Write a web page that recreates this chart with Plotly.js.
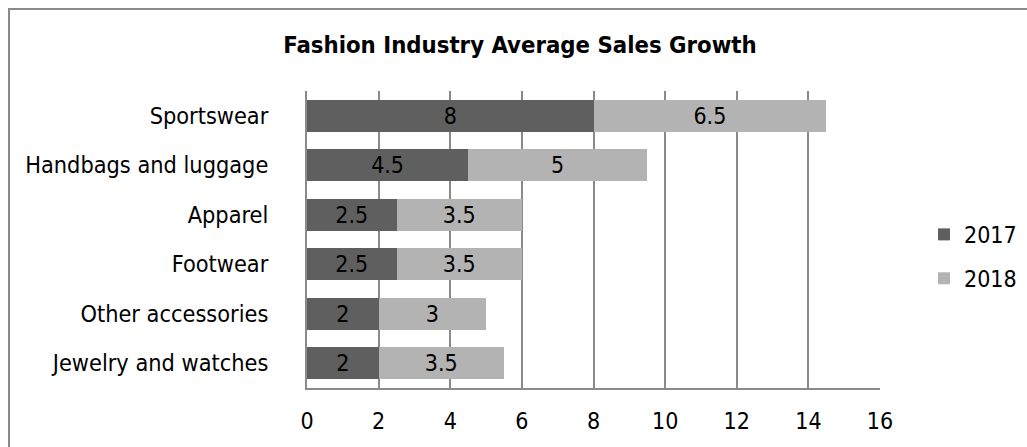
<!DOCTYPE html>
<html>
<head>
<meta charset="utf-8">
<script src="https://cdn.plot.ly/plotly-3.0.1.min.js"></script>
<style>
html,body{margin:0;padding:0;background:#fff;overflow:hidden;}
#frame{position:absolute;left:8px;top:8px;width:1100px;height:520px;border:2px solid #8a8a8a;box-sizing:border-box;}
#chart{position:absolute;left:0;top:0;width:1027px;height:447px;}
</style>
</head>
<body>
<div id="frame"></div>
<div id="chart"></div>
<script>
const categories = ["Sportswear","Handbags and luggage","Apparel","Footwear","Other accessories","Jewelry and watches"];
const sales2017 = [8, 4.5, 2.5, 2.5, 2, 2];
const sales2018 = [6.5, 5, 3.5, 3.5, 3, 3.5];
const xTicks = [0,2,4,6,8,10,12,14,16];

const FONT = '"DejaVu Sans Condensed", "DejaVu Sans", sans-serif';

function series(name, vals, color, group){
  return {
    type:'bar', orientation:'h', name:name,
    y:categories, x:vals,
    text:vals.map(String), textposition:'inside', insidetextanchor:'middle',
    textangle:0, constraintext:'none', cliponaxis:false,
    textfont:{family:FONT, size:23, color:'#000'},
    marker:{color:color, line:{width:0}},
    legendgroup:group, hoverinfo:'x+y'
  };
}

const data = [
  series('2017', sales2017, '#5f5f5f', 'a'),
  series('2018', sales2018, '#b3b3b3', 'b')
];

const layout = {
  width:1027, height:447,
  paper_bgcolor:'rgba(0,0,0,0)', plot_bgcolor:'rgba(0,0,0,0)',
  margin:{l:307, r:147, t:91, b:59, pad:0},
  barmode:'stack', bargap:0.354,
  font:{family:FONT, size:23, color:'#000'},
  title:{text:'<b>Fashion Industry Average Sales Growth</b>', font:{family:FONT, size:23.7, color:'#000'},
         x:520/1027, xref:'container', xanchor:'center', y:1-45/447, yref:'container', yanchor:'middle'},
  xaxis:{range:[0,16], tickvals:xTicks, ticktext:xTicks.map(String), showgrid:true, gridcolor:'#8a8a8a', gridwidth:2,
         showline:true, linecolor:'#8a8a8a', linewidth:2, zeroline:false, ticks:'', ticklabelstandoff:11,
         tickfont:{family:FONT, size:23, color:'#000'}, fixedrange:true},
  yaxis:{type:'category', categoryorder:'array', categoryarray:categories, autorange:'reversed',
         showline:true, linecolor:'#8a8a8a', linewidth:2, showgrid:false, zeroline:false, ticks:'',
         ticklabelstandoff:32, tickfont:{family:FONT, size:23.3, color:'#000'}, fixedrange:true},
  showlegend:true,
  legend:{x:924/1027, xanchor:'left', y:0.443, yanchor:'middle', xref:'container',
          font:{family:FONT, size:23, color:'#000'}, tracegroupgap:11, itemwidth:30,
          bgcolor:'rgba(0,0,0,0)', traceorder:'grouped'}
};

Plotly.newPlot('chart', data, layout, {staticPlot:true, displayModeBar:false});
</script>
</body>
</html>
